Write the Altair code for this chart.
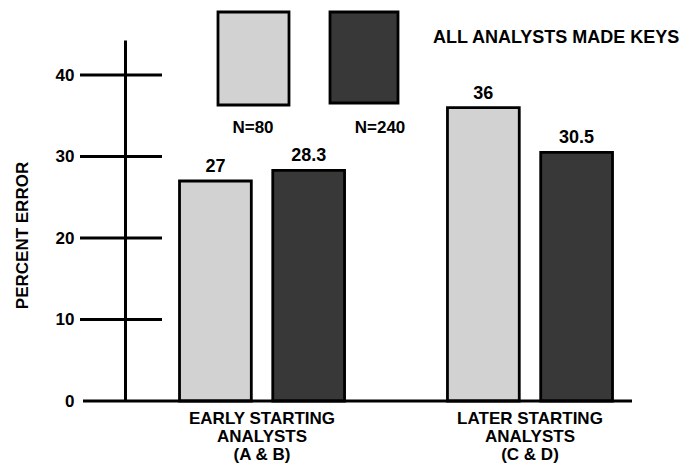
import altair as alt
import pandas as pd

groups = ["EARLY STARTING|ANALYSTS|(A & B)", "LATER STARTING|ANALYSTS|(C & D)"]
series = ["N=80", "N=240"]
n80 = [27, 36]
n240 = [28.3, 30.5]
y_ticks = [0, 10, 20, 30, 40]
cross_ticks = [10, 20, 30, 40]
legend_title = ["ALL ANALYSTS MADE KEYS"]
y_title = "PERCENT ERROR"
fills = ["#d2d2d2", "#383838"]

rows = []
for g, a, b in zip(groups, n80, n240):
    rows.append({"group": g, "series": series[0], "value": a})
    rows.append({"group": g, "series": series[1], "value": b})
df = pd.DataFrame(rows)

FONT = "Liberation Sans"

xscale = alt.Scale(domain=groups, paddingInner=0.384, paddingOuter=0.181, align=0.562)
yscale = alt.Scale(domain=[0, 44.3], nice=False, zero=True)
color = alt.Color("series:N", scale=alt.Scale(domain=series, range=fills), legend=None)
xoff = alt.XOffset("series:N", sort=series, scale=alt.Scale(paddingInner=0.23, paddingOuter=0))

x_axis = alt.Axis(title=None, domain=False, ticks=False, grid=False,
                  labelExpr="split(datum.label, '|')", labelFont=FONT,
                  labelFontWeight="bold", labelFontSize=17, labelAngle=0,
                  labelPadding=9, labelLineHeight=18, labelColor="black")
y_axis = alt.Axis(values=y_ticks, title=y_title, domain=True, domainWidth=3,
                  domainColor="black", ticks=False, grid=False, labelPadding=51,
                  labelFont=FONT, labelFontWeight="bold", labelFontSize=17,
                  labelColor="black", titleFont=FONT, titleFontWeight="bold",
                  titleFontSize=17, titleColor="black", titleX=-103, titleY=195,
                  titleAngle=270, titleAlign="center", titleBaseline="middle")

X = alt.X("group:N", sort=groups, scale=xscale, axis=x_axis)

bars = alt.Chart(df).mark_bar(stroke="black", strokeWidth=2.8).encode(
    x=X,
    xOffset=xoff,
    y=alt.Y("value:Q", scale=yscale, axis=y_axis),
    color=color,
)

value_text = alt.Chart(df).mark_text(dy=-14, fontSize=18, font=FONT,
                                     fontWeight="bold", color="black").encode(
    x=X,
    xOffset=xoff,
    y=alt.Y("value:Q", scale=yscale, axis=y_axis),
    text=alt.Text("value:Q", format=".1~f"),
)

crosses = alt.Chart(pd.DataFrame({"t": cross_ticks})).mark_rule(
    strokeWidth=3, color="black").encode(
    y=alt.Y("t:Q", scale=yscale, axis=y_axis),
    x=alt.value(-45), x2=alt.value(37),
)

baseline = alt.Chart(pd.DataFrame({"z": [0]})).mark_rule(
    strokeWidth=3, color="black").encode(
    y=alt.Y("z:Q", scale=yscale, axis=y_axis),
    x=alt.value(-42), x2=alt.value(507),
)

leg1_box = alt.Chart(pd.DataFrame({"s": [series[0]]})).mark_rect(
    fill=fills[0], stroke="black", strokeWidth=2.8).encode(
    x=alt.value(93), x2=alt.value(164), y=alt.value(-28), y2=alt.value(65))
leg2_box = alt.Chart(pd.DataFrame({"s": [series[1]]})).mark_rect(
    fill=fills[1], stroke="black", strokeWidth=2.8).encode(
    x=alt.value(205), x2=alt.value(273), y=alt.value(-28), y2=alt.value(63))
leg1_txt = alt.Chart(pd.DataFrame({"s": [series[0]]})).mark_text(
    font=FONT, fontWeight="bold", fontSize=17, color="black").encode(
    x=alt.value(128), y=alt.value(88), text="s:N")
leg2_txt = alt.Chart(pd.DataFrame({"s": [series[1]]})).mark_text(
    font=FONT, fontWeight="bold", fontSize=17, color="black").encode(
    x=alt.value(255), y=alt.value(88), text="s:N")
title_txt = alt.Chart(pd.DataFrame({"s": legend_title})).mark_text(
    font=FONT, fontWeight="bold", fontSize=18, color="black", align="left").encode(
    x=alt.value(308), y=alt.value(-2), text="s:N")

chart = alt.layer(
    bars, value_text, crosses, baseline,
    leg1_box, leg2_box, leg1_txt, leg2_txt, title_txt
).properties(
    width=530, height=361,
    background="white",
    autosize=alt.AutoSizeParams(type="none"),
    padding={"left": 117, "top": 32, "right": 28, "bottom": 72},
).configure_view(stroke="transparent", strokeWidth=0)

chart.save("out.html", embed_options={"renderer": "svg", "actions": False})
